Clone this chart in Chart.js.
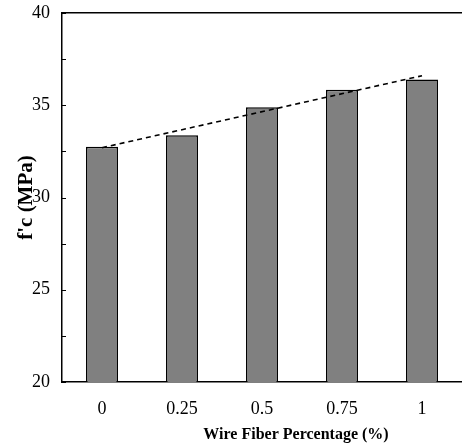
<!DOCTYPE html>
<html>
<head>
<meta charset="utf-8">
<script src="https://cdn.jsdelivr.net/npm/chart.js@4/dist/chart.umd.min.js"></script>
<style>
  html,body{margin:0;padding:0;background:#fff;}
  #wrap{width:462px;height:445px;position:relative;}
</style>
</head>
<body>
<div id="wrap"><canvas id="c" width="462" height="445"></canvas></div>
<script>
const categories = ['0', '0.25', '0.5', '0.75', '1'];
const strengthValues = [32.75, 33.37, 34.89, 35.84, 36.39];
const trendValues = [32.7, null, null, null, 36.6];
const yTickValues = [20, 25, 30, 35, 40];
const yLabel = "f'c (MPa)";
const xLabel = 'Wire Fiber Percentage (%)';

const FONT = 'Liberation Serif, Times New Roman, serif';

const minorTicks = {
  id: 'minorTicks',
  afterDatasetsDraw(chart) {
    const y = chart.scales.y;
    const ctx = chart.ctx;
    ctx.save();
    ctx.strokeStyle = '#000';
    ctx.lineWidth = 1;
    for (let v = y.min; v <= y.max + 1e-9; v += 2.5) {
      const py = Math.round(y.getPixelForValue(v)) + 0.5;
      ctx.beginPath();
      ctx.moveTo(y.right, py);
      ctx.lineTo(y.right + 4, py);
      ctx.stroke();
    }
    ctx.restore();
  }
};

const xTitle = {
  id: 'xTitle',
  afterDraw(chart) {
    const ctx = chart.ctx;
    ctx.save();
    ctx.fillStyle = '#000';
    ctx.font = 'bold 16px ' + FONT;
    ctx.textAlign = 'center';
    ctx.textBaseline = 'middle';
    ctx.fillText(xLabel, 296, 435);
    ctx.restore();
  }
};

function noPad(s) {
  s.paddingTop = 0; s.paddingBottom = 0; s.paddingLeft = 0; s.paddingRight = 0;
}

new Chart(document.getElementById('c'), {
  data: {
    labels: categories,
    datasets: [
      {
        type: 'line',
        data: trendValues,
        spanGaps: true,
        borderColor: '#000',
        borderWidth: 1.6,
        borderDash: [5, 4],
        pointRadius: 0,
        fill: false,
        order: 0
      },
      {
        type: 'bar',
        data: strengthValues,
        backgroundColor: '#808080',
        borderColor: '#000',
        borderWidth: 1.5,
        barPercentage: 0.4,
        categoryPercentage: 1.0,
        order: 1
      }
    ]
  },
  options: {
    responsive: false,
    animation: false,
    devicePixelRatio: 1,
    layout: { padding: { top: 13, right: 0, left: 0, bottom: 0 } },
    plugins: { legend: { display: false }, tooltip: { enabled: false } },
    scales: {
      x: {
        type: 'category',
        grid: { display: false, drawTicks: false },
        border: { display: true, color: '#000', width: 1.5 },
        ticks: { color: '#000', font: { family: FONT, size: 18 }, padding: 16, maxRotation: 0 },
        afterFit(s) { s.height = 63; noPad(s); }
      },
      x2: {
        type: 'category',
        position: 'top',
        labels: categories,
        grid: { display: false, drawTicks: false },
        border: { display: true, color: '#000', width: 1.5 },
        ticks: { display: false },
        afterFit(s) { s.height = 0; noPad(s); }
      },
      y: {
        min: 20,
        max: 40,
        afterBuildTicks(s) { s.ticks = yTickValues.map(v => ({ value: v })); },
        grid: { display: false, drawTicks: false },
        border: { display: true, color: '#000', width: 1.5 },
        ticks: { color: '#000', font: { family: FONT, size: 18 }, padding: 12 },
        title: { display: true, text: yLabel, color: '#000', font: { family: FONT, size: 21, weight: 'bold' }, padding: { top: 14, bottom: 0 } },
        afterFit(s) { s.width = 62; noPad(s); }
      }
    }
  },
  plugins: [minorTicks, xTitle]
});
</script>
</body>
</html>
